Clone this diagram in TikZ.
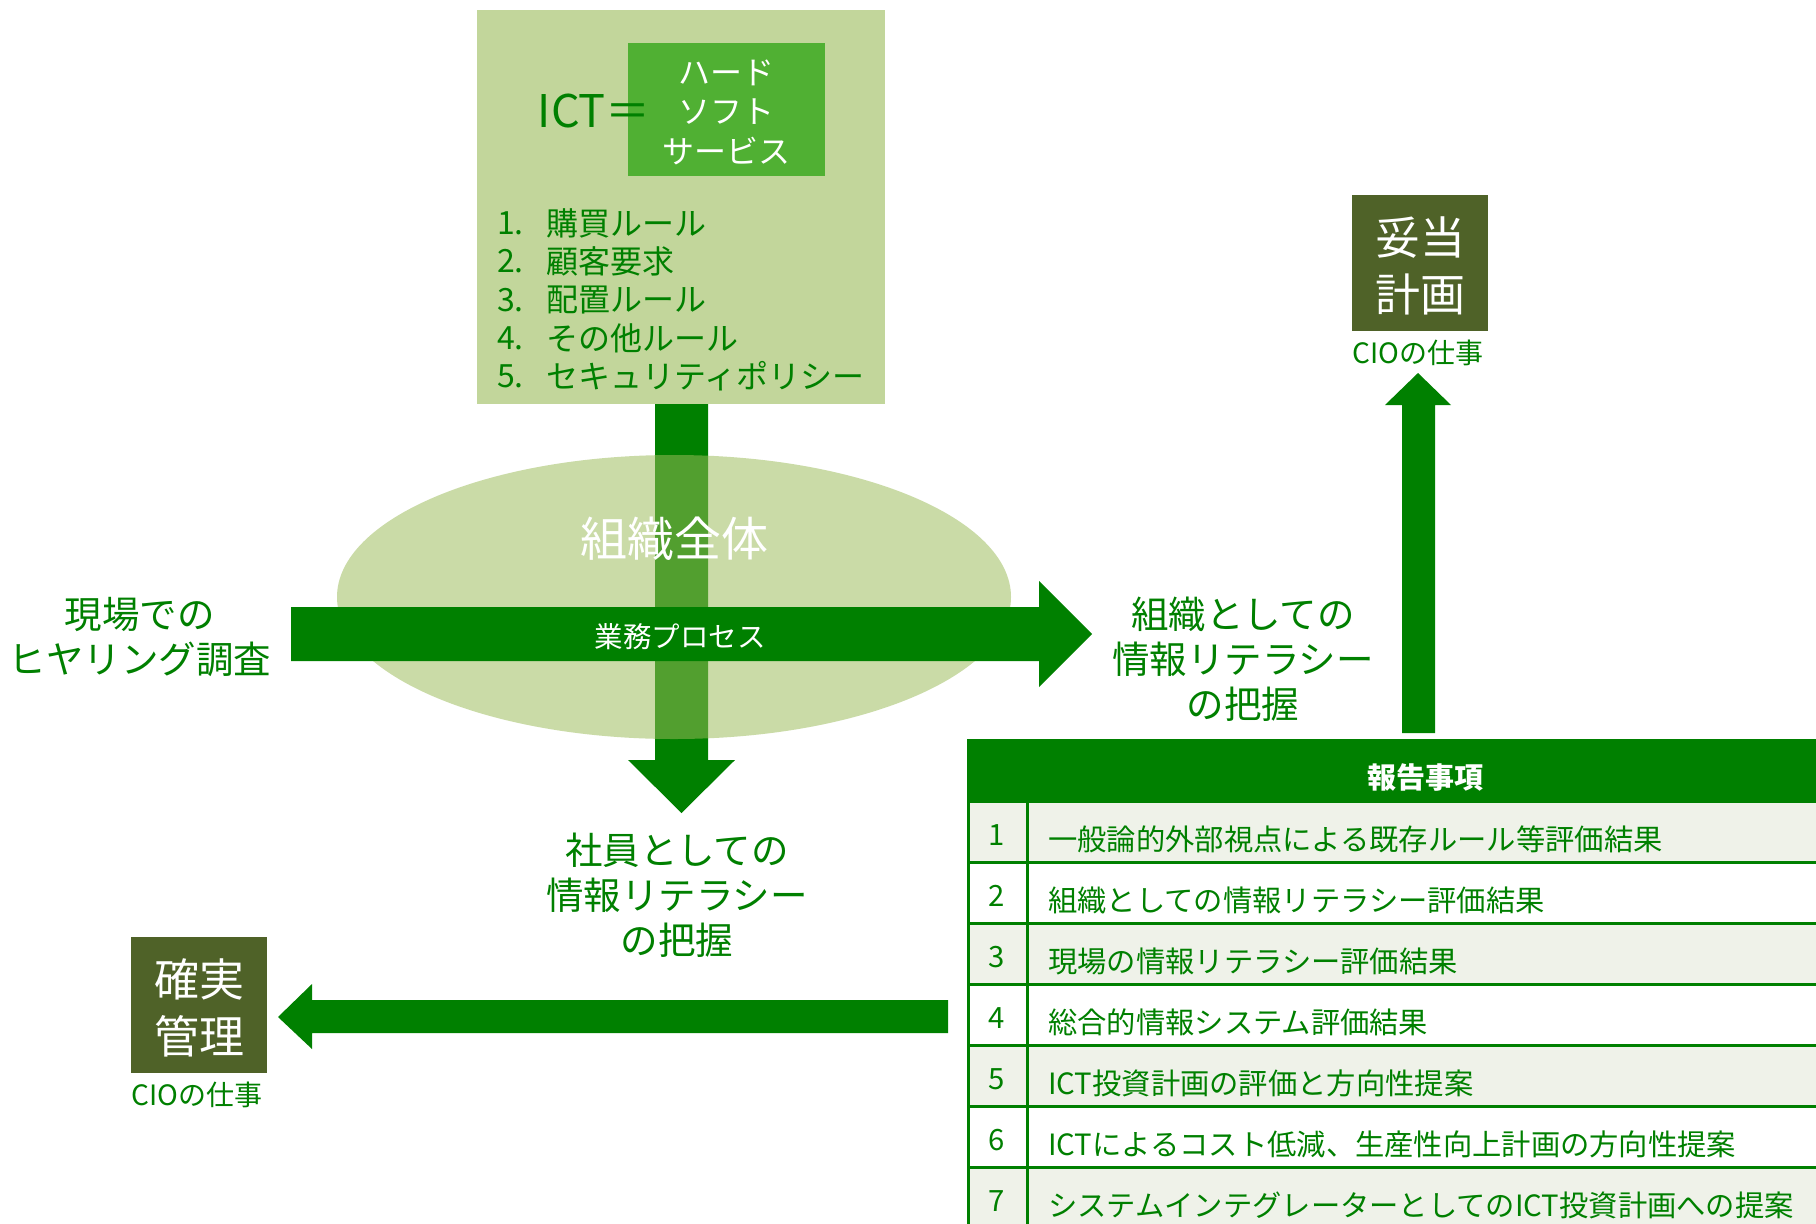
\documentclass[tikz,border=0pt]{standalone}
\usepackage{fontspec}
\setmainfont{Noto Sans CJK JP}
\definecolor{dg}{HTML}{008000}
\definecolor{olive}{HTML}{9BBB59}
\definecolor{olivelt}{HTML}{C2D69B}
\definecolor{olivedk}{HTML}{4F6228}
\definecolor{midg}{HTML}{50B033}
\definecolor{rowlt}{HTML}{EFF2E9}
\begin{document}
\begin{tikzpicture}[x=1pt,y=-1pt,
  box/.style={inner sep=0pt, outer sep=0pt, draw=none},
  gtxt/.style={text=dg, inner sep=0pt, align=center},
  wtxt/.style={text=white, inner sep=0pt, align=center},
  big/.style={font=\fontsize{37.5}{45}\selectfont},
  cio/.style={gtxt, font=\fontsize{28}{34}\selectfont},
  judge/.style={box, fill=olivedk, minimum width=136pt, minimum height=136pt},
  judgetxt/.style={wtxt, font=\fontsize{45}{57}\selectfont},
  listtxt/.style={gtxt, anchor=west, font=\fontsize{32}{38}\selectfont},
  celltxt/.style={gtxt, font=\fontsize{29.3}{34}\selectfont},
  gridline/.style={draw=dg, line width=3pt}
]
\useasboundingbox (0,0) rectangle (1816,1224);
\fill[white] (0,0) rectangle (1816,1224);

% ---- top rules box
\node[box, fill=olivelt, minimum width=408pt, minimum height=394pt] (rules) at (681,207) {};
\node[box, fill=midg, minimum width=197pt, minimum height=133pt] (ictbox) at (726.5,109.5) {};
\node[wtxt, font=\fontsize{32}{39.5}\selectfont] (ictitems) at (726.5,112) {ハード\\ソフト\\サービス};
\node[gtxt, anchor=east, font=\fontsize{45}{50}\selectfont] (ict) at (651,111) {ICT＝};
\foreach \i/\t [count=\k from 0] in {1/購買ルール, 2/顧客要求, 3/配置ルール, 4/その他ルール, 5/セキュリティポリシー}{
  \node[listtxt] (num\i) at (497,{223+38.3*\k}) {\i.};
  \node[listtxt] (rule\i) at (546,{223+38.3*\k}) {\t};
}

% ---- vertical arrow (under the ellipse)
\coordinate (vtop) at (681.5,404);
\coordinate (vtip) at (681.5,813);
\fill[dg] (655,404) -- (708,404) -- (708,760) -- (735,760) -- (vtip) -- (628,760) -- (655,760) -- cycle;

% ---- ellipse
\fill[olive, fill opacity=0.53] (674,597) ellipse [x radius=337, y radius=142];
\node[wtxt, font=\fontsize{47}{56}\selectfont] (whole) at (674,539) {組織全体};

% ---- horizontal arrow
\coordinate (htip) at (1092,634);
\fill[dg] (291,607) -- (1039,607) -- (1039,581) -- (htip) -- (1039,687) -- (1039,661) -- (291,661) -- cycle;
\node[wtxt, font=\fontsize{28.5}{34}\selectfont] (process) at (680,637) {業務プロセス};

% ---- labels
\node[gtxt, big] (hearing) at (140,637.5) {現場での\\ヒヤリング調査};
\node[gtxt, big] (orglit) at (1243,659) {組織としての\\情報リテラシー\\の把握};
\node[gtxt, big] (emplit) at (677,895) {社員としての\\情報リテラシー\\の把握};

% ---- up arrow
\coordinate (utip) at (1418,373);
\fill[dg] (1402,733) -- (1402,405) -- (1385,405) -- (utip) -- (1451,405) -- (1435,405) -- (1435,733) -- cycle;

% ---- left arrow
\coordinate (ltip) at (278,1017);
\fill[dg] (948,1000) -- (312,1000) -- (312,984) -- (ltip) -- (312,1049) -- (312,1033) -- (948,1033) -- cycle;

% ---- CIO boxes
\node[judge] (plan) at (1420,263) {};
\node[judgetxt] (plantxt) at (1420,266) {妥当\\計画};
\node[cio] (cio1) at (1418,353) {CIOの仕事};
\node[judge] (mgmt) at (199,1005) {};
\node[judgetxt] (mgmttxt) at (199,1008) {確実\\管理};
\node[cio] (cio2) at (197,1095) {CIOの仕事};

% ---- table
\begin{scope}
\clip (0,0) rectangle (1816,1224);
\fill[dg] (968,739) rectangle (1900,802);
\foreach \i in {1,3,5,7}{
  \fill[rowlt] (968,{801+61*(\i-1)}) rectangle (1900,{801+61*\i});
}
\foreach \i in {0,...,7}{
  \draw[gridline] (968,{801+61*\i}) -- (1900,{801+61*\i});
}
\draw[gridline] (968,739) -- (968,1240);
\draw[gridline] (1027,801) -- (1027,1240);
\end{scope}
\node[wtxt, font=\fontsize{29}{34}\selectfont\bfseries] (head) at (1425,777) {報告事項};
\foreach \i/\t in {1/一般論的外部視点による既存ルール等評価結果,
                   2/組織としての情報リテラシー評価結果,
                   3/現場の情報リテラシー評価結果,
                   4/総合的情報システム評価結果,
                   5/ICT投資計画の評価と方向性提案,
                   6/ICTによるコスト低減、生産性向上計画の方向性提案,
                   7/システムインテグレーターとしてのICT投資計画への提案}{
  \node[celltxt] (n\i) at (997,{801+61*(\i-1)+34}) {\i};
  \node[celltxt, anchor=west] (item\i) at (1048,{801+61*(\i-1)+38}) {\t};
}
\end{tikzpicture}
\end{document}
